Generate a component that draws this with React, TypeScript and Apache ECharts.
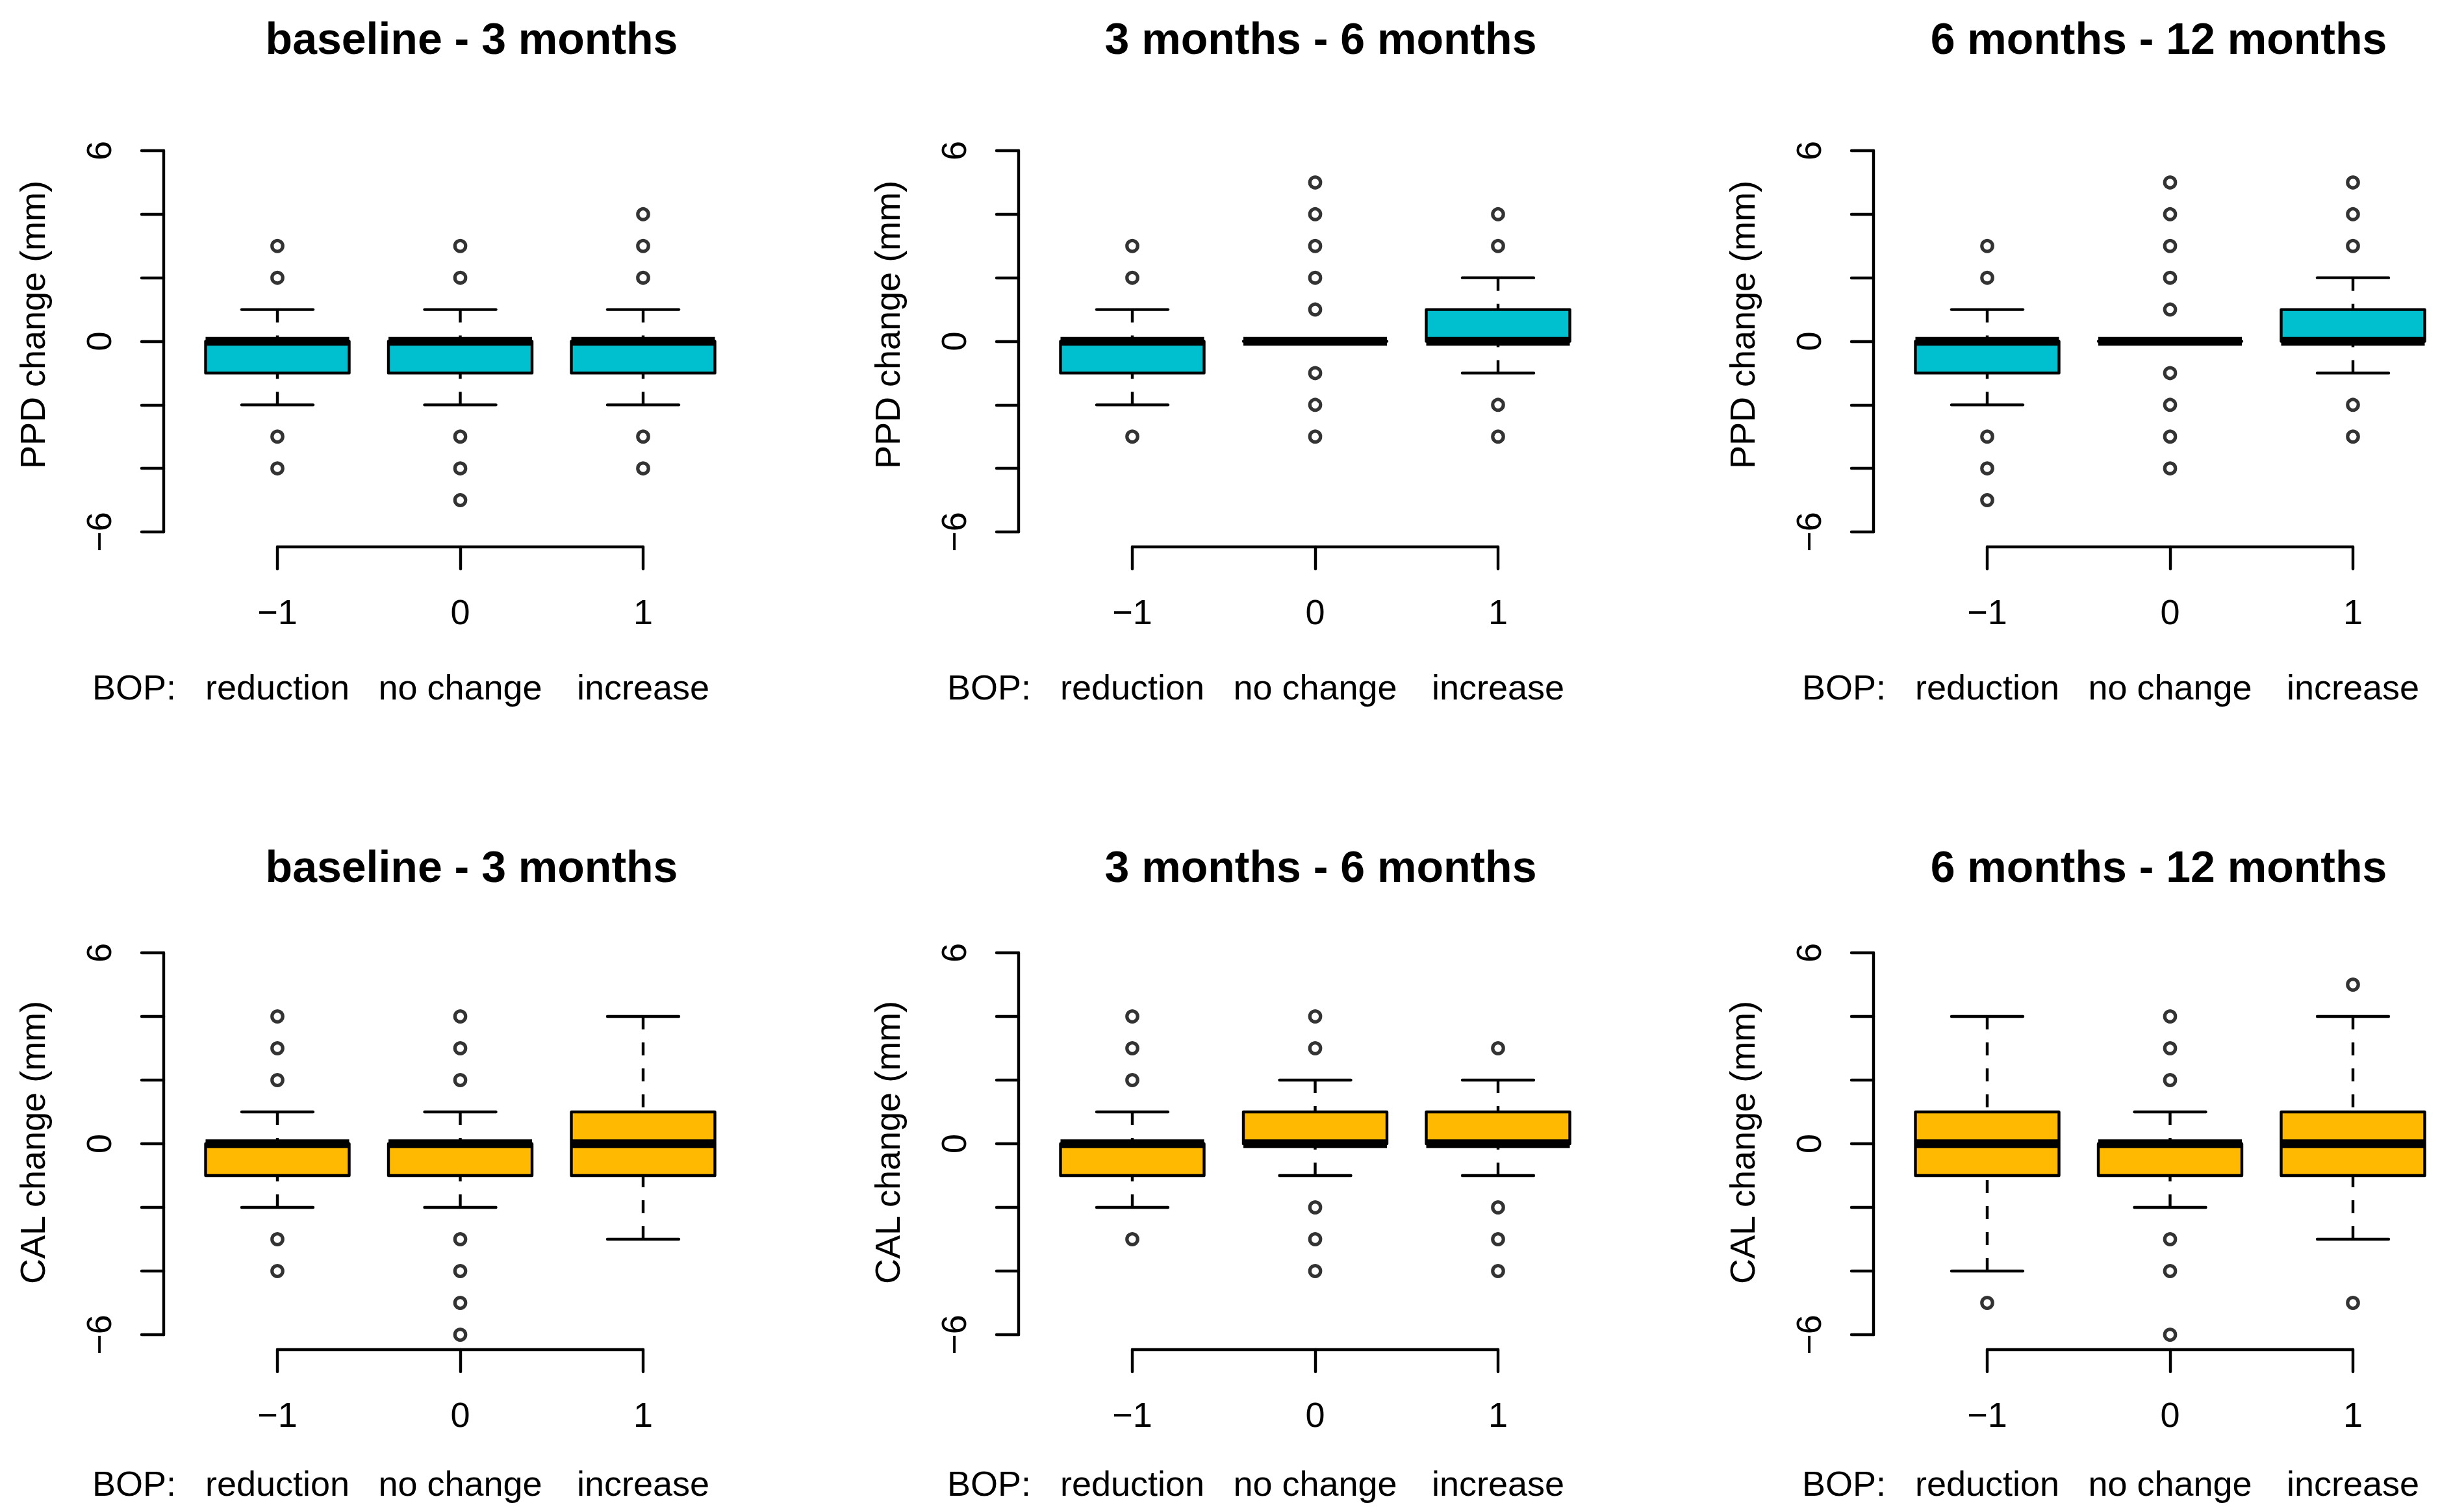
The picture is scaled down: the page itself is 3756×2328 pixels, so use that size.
import React, { useEffect, useRef } from "react";
import * as echarts from "echarts";

// ---------------- data ----------------
const categories = ["reduction", "no change", "increase"];
const xPositions = [1, 2, 3];
const xTickLabels = ["\u22121", "0", "1"];
const periodTitles = ["baseline - 3 months", "3 months - 6 months", "6 months - 12 months"];
const yTitles = ["PPD change (mm)", "CAL change (mm)"];
const yTickValues = [-6, -4, -2, 0, 2, 4, 6];
const yLabelledTicks = [-6, 0, 6];
const bopLabel = "BOP:";
const rowColors = ["#00C0CF", "#FFB900"];

// five-number summaries per BOP group: [lower whisker, Q1, median, Q3, upper whisker]
const ppdBaseline3 = [[-2, -1, 0, 0, 1], [-2, -1, 0, 0, 1], [-2, -1, 0, 0, 1]];
const ppd3to6 = [[-2, -1, 0, 0, 1], [0, 0, 0, 0, 0], [-1, 0, 0, 1, 2]];
const ppd6to12 = [[-2, -1, 0, 0, 1], [0, 0, 0, 0, 0], [-1, 0, 0, 1, 2]];
const calBaseline3 = [[-2, -1, 0, 0, 1], [-2, -1, 0, 0, 1], [-3, -1, 0, 1, 4]];
const cal3to6 = [[-2, -1, 0, 0, 1], [-1, 0, 0, 1, 2], [-1, 0, 0, 1, 2]];
const cal6to12 = [[-4, -1, 0, 1, 4], [-2, -1, 0, 0, 1], [-3, -1, 0, 1, 4]];

// outliers per BOP group
const ppdBaseline3Out = [[3, 2, -3, -4], [3, 2, -3, -4, -5], [4, 3, 2, -3, -4]];
const ppd3to6Out = [[3, 2, -3], [5, 4, 3, 2, 1, -1, -2, -3], [4, 3, -2, -3]];
const ppd6to12Out = [[3, 2, -3, -4, -5], [5, 4, 3, 2, 1, -1, -2, -3, -4], [5, 4, 3, -2, -3]];
const calBaseline3Out = [[4, 3, 2, -3, -4], [4, 3, 2, -3, -4, -5, -6], []];
const cal3to6Out = [[4, 3, 2, -3], [4, 3, -2, -3, -4], [3, -2, -3, -4]];
const cal6to12Out = [[-5], [4, 3, 2, -3, -4, -6], [5, -5]];

const boxRows = [
  [ppdBaseline3, ppd3to6, ppd6to12],
  [calBaseline3, cal3to6, cal6to12],
];
const outlierRows = [
  [ppdBaseline3Out, ppd3to6Out, ppd6to12Out],
  [calBaseline3Out, cal3to6Out, cal6to12Out],
];

// ---------------- layout / style ----------------
const W = 3756;
const H = 2328;
const FONT = '"Liberation Sans", Arial, Helvetica, sans-serif';
const LW = 4.4;
const MEDIAN_LW = 13.6;
const BOX_HALF = 110.5;
const CAP_HALF = 55;
const L = {
  colDx: 1316,
  gridLeft: 427,
  gridWidth: 563,
  yAxisOffset: 175,
  xAxisOffset: 23,
  rows: [
    { top: 232, bottom: 819, titleY: 59, yTitleY: 500, bopY: 1058, catMargin: 189 },
    { top: 1467, bottom: 2055, titleY: 1334, yTitleY: 1759, bopY: 2284, catMargin: 179 },
  ],
  titleX: [726, 2033, 3323],
  yTitleX: 50,
  bopX: 142,
};

const minus = (v: number) => (v < 0 ? "\u2212" + Math.abs(v) : String(v));

function makeRenderBox(color: string) {
  return (_params: any, api: any) => {
    const x = api.value(0);
    const lo = api.value(1);
    const q1 = api.value(2);
    const med = api.value(3);
    const q3 = api.value(4);
    const hi = api.value(5);
    const pLo = api.coord([x, lo]);
    const pQ1 = api.coord([x, q1]);
    const pMed = api.coord([x, med]);
    const pQ3 = api.coord([x, q3]);
    const pHi = api.coord([x, hi]);
    const cx = pMed[0];
    const solid = { stroke: "#000", lineWidth: LW, lineCap: "round", fill: null };
    const dashed = { stroke: "#000", lineWidth: LW, lineDash: [20, 20], lineCap: "butt", fill: null };
    const children: any[] = [];
    if (hi > q3) {
      children.push({ type: "line", shape: { x1: cx, y1: pHi[1], x2: cx, y2: pQ3[1] }, style: dashed });
    }
    if (lo < q1) {
      children.push({ type: "line", shape: { x1: cx, y1: pLo[1], x2: cx, y2: pQ1[1] }, style: dashed });
    }
    children.push({ type: "line", shape: { x1: cx - CAP_HALF, y1: pHi[1], x2: cx + CAP_HALF, y2: pHi[1] }, style: solid });
    children.push({ type: "line", shape: { x1: cx - CAP_HALF, y1: pLo[1], x2: cx + CAP_HALF, y2: pLo[1] }, style: solid });
    children.push({
      type: "rect",
      shape: { x: cx - BOX_HALF, y: pQ3[1], width: BOX_HALF * 2, height: pQ1[1] - pQ3[1] },
      style: { fill: color, stroke: "#000", lineWidth: LW, lineJoin: "round" },
    });
    children.push({
      type: "line",
      shape: { x1: cx - BOX_HALF, y1: pMed[1], x2: cx + BOX_HALF, y2: pMed[1] },
      style: { stroke: "#000", lineWidth: MEDIAN_LW, lineCap: "butt", fill: null },
    });
    return { type: "group", children };
  };
}

function buildOption() {
  const grid: any[] = [];
  const xAxis: any[] = [];
  const yAxis: any[] = [];
  const series: any[] = [];
  const graphic: any[] = [];
  const axisLineStyle = { color: "#000", width: LW, cap: "round" };
  const labelBase = { color: "#000", fontSize: 54, lineHeight: 54, fontFamily: FONT };

  for (let r = 0; r < 2; r++) {
    const row = L.rows[r];
    for (let c = 0; c < 3; c++) {
      const g = r * 3 + c;
      const dx = c * L.colDx;
      grid.push({
        left: L.gridLeft + dx,
        top: row.top,
        width: L.gridWidth,
        height: row.bottom - row.top,
        containLabel: false,
        outerBoundsMode: "none",
        show: false,
      });
      xAxis.push({
        type: "value",
        gridIndex: g,
        min: xPositions[0],
        max: xPositions[xPositions.length - 1],
        interval: 1,
        position: "bottom",
        offset: L.xAxisOffset,
        axisLine: { show: true, onZero: false, lineStyle: axisLineStyle },
        axisTick: { show: true, length: 34, lineStyle: axisLineStyle },
        axisLabel: {
          ...labelBase,
          margin: 73,
          showMinLabel: true,
          showMaxLabel: true,
          formatter: (v: number) => {
            const i = xPositions.indexOf(v);
            return i >= 0 ? xTickLabels[i] : "";
          },
        },
        splitLine: { show: false },
      });
      xAxis.push({
        type: "value",
        gridIndex: g,
        min: xPositions[0],
        max: xPositions[xPositions.length - 1],
        interval: 1,
        position: "bottom",
        offset: L.xAxisOffset,
        axisLine: { show: false, onZero: false },
        axisTick: { show: false },
        axisLabel: {
          ...labelBase,
          margin: row.catMargin,
          showMinLabel: true,
          showMaxLabel: true,
          formatter: (v: number) => {
            const i = xPositions.indexOf(v);
            return i >= 0 ? categories[i] : "";
          },
        },
        splitLine: { show: false },
      });
      yAxis.push({
        type: "value",
        gridIndex: g,
        min: yTickValues[0],
        max: yTickValues[yTickValues.length - 1],
        interval: yTickValues[1] - yTickValues[0],
        position: "left",
        offset: L.yAxisOffset,
        axisLine: { show: true, onZero: false, lineStyle: axisLineStyle },
        axisTick: { show: true, length: 34, lineStyle: axisLineStyle },
        axisLabel: {
          ...labelBase,
          margin: 73,
          rotate: 90,
          showMinLabel: true,
          showMaxLabel: true,
          formatter: (v: number) => (yLabelledTicks.indexOf(v) >= 0 ? minus(v) : ""),
        },
        splitLine: { show: false },
      });

      const boxes = boxRows[r][c];
      const outs = outlierRows[r][c];
      series.push({
        type: "custom",
        xAxisIndex: g * 2,
        yAxisIndex: g,
        silent: true,
        dimensions: ["x", "lo", "q1", "med", "q3", "hi"],
        encode: { x: 0, y: [1, 2, 3, 4, 5] },
        data: boxes.map((s, i) => [xPositions[i], ...s]),
        renderItem: makeRenderBox(rowColors[r]),
      });
      const pts: number[][] = [];
      outs.forEach((arr, i) => arr.forEach((v) => pts.push([xPositions[i], v])));
      series.push({
        type: "scatter",
        xAxisIndex: g * 2,
        yAxisIndex: g,
        silent: true,
        clip: false,
        symbol: "circle",
        symbolSize: 16.5,
        data: pts,
        itemStyle: { color: "rgba(0,0,0,0)", borderColor: "#000", borderWidth: 5.2 },
        emphasis: { disabled: true },
      });

      graphic.push({
        type: "text",
        x: L.titleX[c],
        y: row.titleY,
        silent: true,
        style: {
          text: periodTitles[c],
          fill: "#000",
          font: `bold 68px ${FONT}`,
          textAlign: "center",
          textVerticalAlign: "middle",
          align: "center",
          verticalAlign: "middle",
        },
      });
      graphic.push({
        type: "text",
        x: L.yTitleX + dx,
        y: row.yTitleY,
        rotation: Math.PI / 2,
        silent: true,
        style: {
          text: yTitles[r],
          fill: "#000",
          font: `54px ${FONT}`,
          textAlign: "center",
          textVerticalAlign: "middle",
          align: "center",
          verticalAlign: "middle",
        },
      });
      graphic.push({
        type: "text",
        x: L.bopX + dx,
        y: row.bopY,
        silent: true,
        style: {
          text: bopLabel,
          fill: "#000",
          font: `54px ${FONT}`,
          textAlign: "left",
          textVerticalAlign: "middle",
          align: "left",
          verticalAlign: "middle",
        },
      });
    }
  }

  return {
    animation: false,
    backgroundColor: "#ffffff",
    grid,
    xAxis,
    yAxis,
    series,
    graphic,
  };
}

export default function App() {
  const ref = useRef<HTMLDivElement>(null);
  useEffect(() => {
    document.body.style.margin = "0";
    if (!ref.current) return;
    const chart = echarts.init(ref.current, null, { renderer: "svg", width: W, height: H });
    chart.setOption(buildOption() as any);
    return () => chart.dispose();
  }, []);
  return (
    <div
      ref={ref}
      style={{ position: "absolute", left: 0, top: 0, width: W, height: H, background: "#fff" }}
    />
  );
}
